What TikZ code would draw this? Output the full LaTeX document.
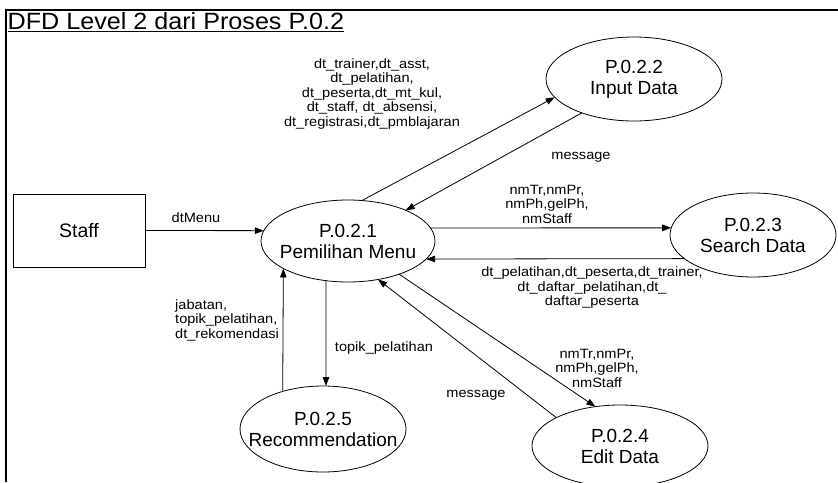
\documentclass[tikz,border=0pt]{standalone}
\usepackage{fontspec}
\setmainfont{Liberation Sans}
\newfontfamily\lblfont[FakeStretch=1.08]{Liberation Sans}
\newfontfamily\titlefont[FakeStretch=1.07]{Liberation Sans}
\usetikzlibrary{arrows.meta,shapes.geometric}
\begin{document}
\begin{tikzpicture}[x=1pt,y=-1pt,
  proc/.style={ellipse,draw,line width=0.8pt,outer sep=0pt,inner sep=0pt},
  box/.style={rectangle,draw,line width=0.8pt,outer sep=0pt,inner sep=0pt},
  flow/.style={-{Triangle[length=9pt,width=6.5pt]},line width=0.8pt},
  lbl/.style={font=\lblfont\fontsize{13.5}{14.5}\selectfont,align=center,inner sep=0pt},
  ptext/.style={font=\fontsize{19}{21}\selectfont,align=center,inner sep=0pt}]
\useasboundingbox (0,0) rectangle (838,482);
\draw[line width=2pt] (838,10) -- (5.7,10) -- (5.7,482);
\node[anchor=base west,font=\titlefont\fontsize{23.5}{25}\selectfont,inner sep=0pt] (title) at (7.5,29.5) {\underline{DFD Level 2 dari Proses P.0.2}};

\node[box,minimum width=132pt,minimum height=73pt,font=\fontsize{19.5}{21}\selectfont] (staff) at (79,230.5) {Staff};
\node[proc,minimum width=174pt,minimum height=82pt,label={[ptext,name=p1t]center:P.0.2.1\\Pemilihan Menu}] (p1) at (348,241) {};
\node[proc,minimum width=176pt,minimum height=84pt,label={[ptext,name=p2t]center:P.0.2.2\\Input Data}] (p2) at (634,79) {};
\node[proc,minimum width=166pt,minimum height=84pt,label={[ptext,name=p3t]center:P.0.2.3\\Search Data}] (p3) at (753,235) {};
\node[proc,minimum width=176pt,minimum height=82pt,label={[ptext,name=p4t]center:P.0.2.4\\Edit Data}] (p4) at (620,446) {};
\node[proc,minimum width=166pt,minimum height=86pt,label={[ptext,name=p5t]center:P.0.2.5\\Recommendation}] (p5) at (323,429) {};

\draw[flow] (staff.east) -- (p1.173);
\draw[flow] (p1.71) -- (p2.193);
\draw[flow] (p2.213) -- (p1.28);
\draw[flow] (p1.9) -- (p3.175);
\draw[flow] (p3.199) -- (p1.347);
\draw[flow] (p1.327) -- (p4.122);
\draw[flow] (p4.156) -- (p1.308);
\draw[flow] (p1.241) -- (p5.86);
\draw[flow] (p5.137) -- (p1.203);

\node[lbl] (l1) at (196,218) {dtMenu};
\node[lbl] (l2) at (372,94) {dt\_trainer,dt\_asst,\\dt\_pelatihan,\\dt\_peserta,dt\_mt\_kul,\\dt\_staff, dt\_absensi,\\dt\_registrasi,dt\_pmblajaran};
\node[lbl] (l3) at (581,157) {message};
\node[lbl] (l4) at (547,204) {nmTr,nmPr,\\nmPh,gelPh,\\nmStaff};
\node[lbl] (l5) at (592,288) {dt\_pelatihan,dt\_peserta,dt\_trainer,\\dt\_daftar\_pelatihan,dt\_\\daftar\_peserta};
\node[lbl] (l6) at (597,368) {nmTr,nmPr,\\nmPh,gelPh,\\nmStaff};
\node[lbl] (l7) at (476,395) {message};
\node[lbl] (l8) at (384,348) {topik\_pelatihan};
\node[lbl,anchor=west,align=left] (l9) at (175,320) {jabatan,\\topik\_pelatihan,\\dt\_rekomendasi};
\end{tikzpicture}
\end{document}
